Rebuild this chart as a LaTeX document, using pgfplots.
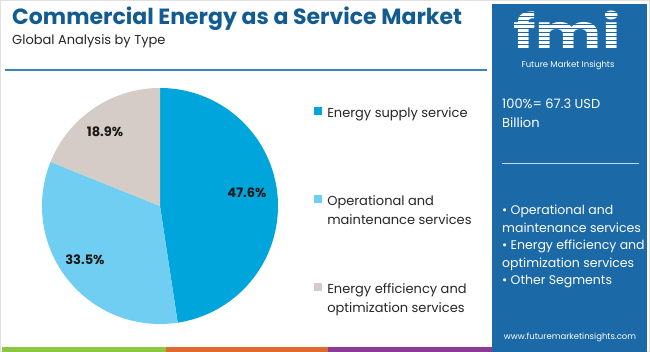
\documentclass[border=0pt]{standalone}
\usepackage{pgfplots}
\pgfplotsset{compat=1.18}
\usepackage{fontspec}
\setmainfont{Poppins}
\definecolor{cA}{HTML}{00A5DB}
\definecolor{cB}{HTML}{70CEF2}
\definecolor{cC}{HTML}{D6CCC7}
\definecolor{titlec}{HTML}{135C91}
\definecolor{side}{HTML}{1B69A6}
\definecolor{rulec}{HTML}{3A84BA}
\definecolor{gB}{HTML}{8DC63F}
\definecolor{oB}{HTML}{E0692E}
\definecolor{pB}{HTML}{8B3A95}
% data (percent shares)
\def\vA{47.6}
\def\vB{33.5}
\def\vC{18.9}
\pgfmathsetmacro{\aZ}{90}
\pgfmathsetmacro{\aA}{90-3.6*\vA}
\pgfmathsetmacro{\aB}{\aA-3.6*\vB}
\pgfmathsetmacro{\aC}{\aB-3.6*\vC}
\begin{document}
\begin{tikzpicture}[x=1pt,y=1pt]
\useasboundingbox (0,0) rectangle (650,352);
\fill[white] (0,0) rectangle (650,352);
\draw[black!12, line width=1.2pt] (0.6,0.6) rectangle (649.4,351.4);
% title
\node[anchor=base west, inner sep=0, text=titlec, font=\fontsize{22}{26}\selectfont\bfseries] at (12,327) {Commercial Energy as a Service Market};
\node[anchor=base west, inner sep=0, text=black!85, font=\fontsize{13}{16}\selectfont] at (12,307) {Global Analysis by Type};
\draw[rulec, line width=1.3pt] (5,282) -- (487,282);
% sidebar
\fill[side] (492,0) rectangle (647,348);
\fill[gB] (2,0) rectangle (166,5);
\fill[oB] (166,0) rectangle (328,5);
\fill[pB] (328,0) rectangle (492,5);
% logo
\node[inner sep=0, text depth=0pt, text=white, font=\fontsize{48}{48}\selectfont\bfseries, xscale=1.3, anchor=base] at (567,302) {fmi};
\foreach \yy in {304,308,...,340} {\draw[side, line width=0.9pt] (510,\yy) -- (626,\yy);}
\node[inner sep=0, text=white, font=\fontsize{8.5}{10}\selectfont, anchor=base] at (568,284) {Future Market Insights};
\node[anchor=base west, inner sep=0, text=white, font=\fontsize{13}{16}\selectfont] at (502,243) {100\%= 67.3 USD};
\node[anchor=base west, inner sep=0, text=white, font=\fontsize{13}{16}\selectfont] at (502,224) {Billion};
\draw[white!75!side, line width=0.8pt] (502,189) -- (639,189);
\node[anchor=base west, inner sep=0, text=white, font=\fontsize{12.5}{17.5}\selectfont, align=left] at (502,67) {• Operational and\\maintenance services\\• Energy efficiency and\\optimization services\\• Other Segments};
\node[inner sep=0, text=white, font=\fontsize{8.5}{10}\selectfont] at (570,15) {www.futuremarketinsights.com};
% pie
\begin{axis}[
  at={(160pt,146pt)}, anchor=origin,
  width=236pt, height=236pt, scale only axis,
  xmin=-1, xmax=1, ymin=-1, ymax=1,
  hide axis, clip=false,
  legend style={at={(1.153,0.921)}, anchor=north west, draw=none, fill=none,
    font=\fontsize{13}{19}\selectfont, text=black!85,
    row sep=57pt, column sep=5pt, inner sep=0pt,
    nodes={align=left, inner sep=0pt}},
  legend cell align=left,
  legend image code/.code={\fill[#1] (0pt,8pt) rectangle (8pt,16pt);},
]
\addplot[fill=cA, draw=none, domain=\aA:\aZ, samples=90, variable=\t] ({cos(\t)},{sin(\t)}) -- (axis cs:0,0) -- cycle;
\addlegendentry{Energy supply service\\\mbox{}}
\addplot[fill=cB, draw=none, domain=\aB:\aA, samples=90, variable=\t] ({cos(\t)},{sin(\t)}) -- (axis cs:0,0) -- cycle;
\addlegendentry{Operational and\\maintenance services}
\addplot[fill=cC, draw=none, domain=\aC:\aB, samples=90, variable=\t] ({cos(\t)},{sin(\t)}) -- (axis cs:0,0) -- cycle;
\addlegendentry{Energy efficiency and\\optimization services}
\node[font=\fontsize{13}{15}\selectfont\bfseries, text=black!90] at (axis cs:0.737,0.110) {47.6\%};
\node[font=\fontsize{13}{15}\selectfont\bfseries, text=black!90] at (axis cs:-0.636,-0.458) {33.5\%};
\node[font=\fontsize{13}{15}\selectfont\bfseries, text=black!90] at (axis cs:-0.466,0.627) {18.9\%};
\end{axis}
\end{tikzpicture}
\end{document}
